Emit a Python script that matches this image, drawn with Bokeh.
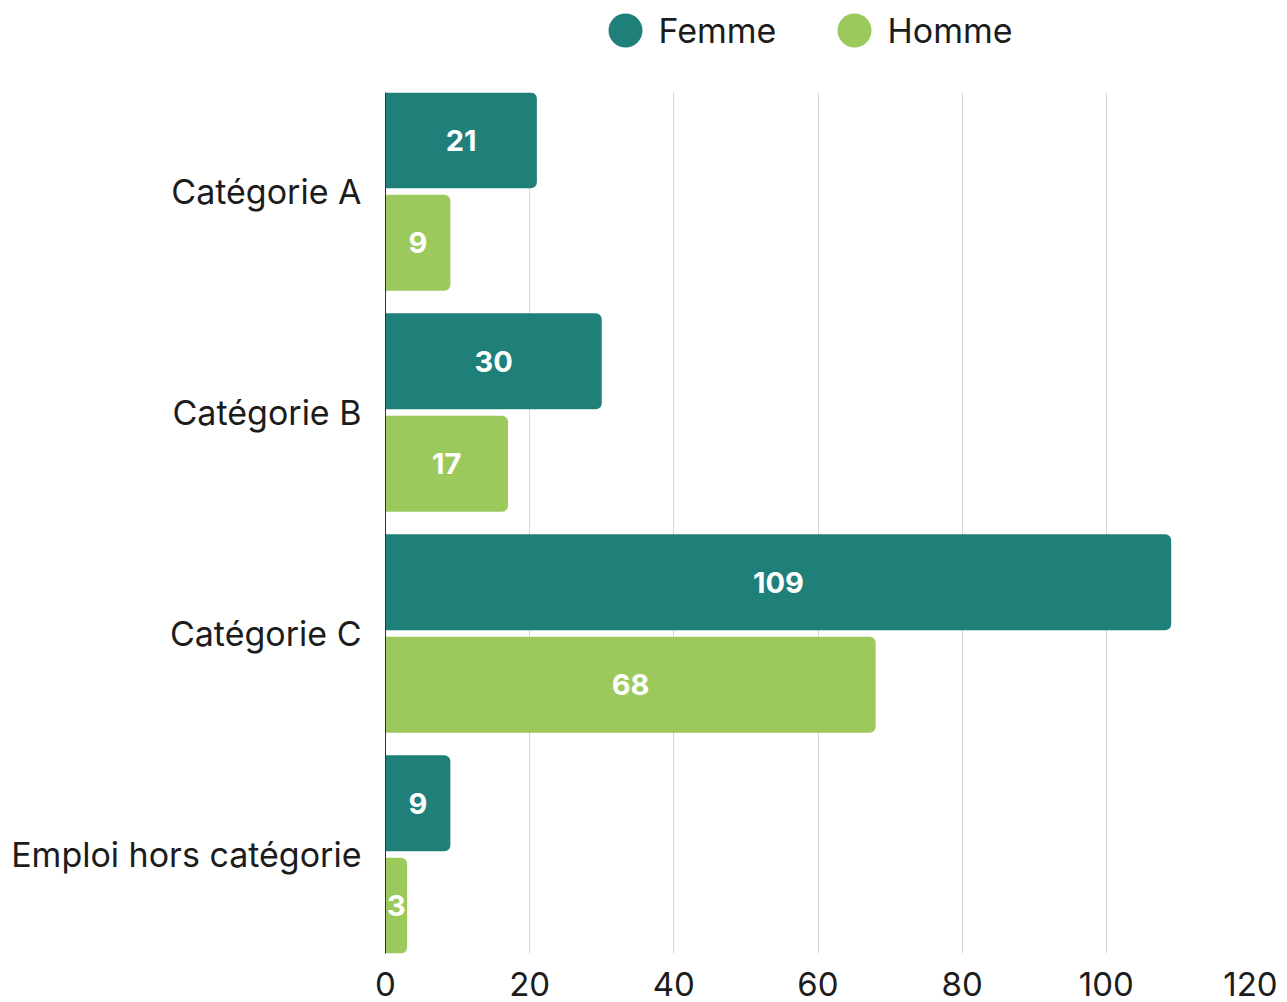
from bokeh.plotting import figure
from bokeh.models import ColumnDataSource, Range1d, FixedTicker
from bokeh.layouts import column
from bokeh.core.properties import value
from bokeh.embed import file_html
from bokeh.resources import INLINE

# Effectifs par catégorie et par sexe
categories = ["Catégorie A", "Catégorie B", "Catégorie C", "Emploi hors catégorie"]
femme = [21, 30, 109, 9]
homme = [9, 17, 68, 3]
x_ticks = [0, 20, 40, 60, 80, 100, 120]
series_names = ["Femme", "Homme"]

FEMME_COLOR = "#1f8079"
HOMME_COLOR = "#9cc95c"
FONT = "Inter"
TEXT_COLOR = "#1c1c1c"

LEFT, RIGHT = 385, 37          # shared frame borders (px)
WIDTH = 1287

n = len(categories)
# Category A at the top: position n-1 down to 0
pos = [n - 1 - i for i in range(n)]
offset = 0.232
bar_h = 0.435

src_f = ColumnDataSource(dict(
    y=[p + offset for p in pos], v=femme, mid=[v / 2 for v in femme],
    lab=[str(v) for v in femme]))
src_h = ColumnDataSource(dict(
    y=[p - offset for p in pos], v=homme, mid=[v / 2 for v in homme],
    lab=[str(v) for v in homme]))

# ---- legend strip (x range in pixels, same frame as the chart) ----
leg = figure(width=WIDTH, height=80, x_range=Range1d(LEFT, WIDTH - RIGHT),
             y_range=Range1d(0, 80), output_backend="svg", toolbar_location=None,
             min_border_left=LEFT, min_border_right=RIGHT,
             min_border_top=0, min_border_bottom=0)
leg.axis.visible = False
leg.grid.visible = False
leg.outline_line_color = None
leg_src = ColumnDataSource(dict(cx=[625, 854], tx=[658, 887], y=[50, 50],
                                name=series_names, color=[FEMME_COLOR, HOMME_COLOR]))
leg.scatter(x="cx", y="y", size=34, marker="circle", fill_color="color",
            line_color=None, source=leg_src)
leg.text(x="tx", y="y", text="name", text_font=value(FONT), text_font_size="34px",
         text_color=TEXT_COLOR, text_baseline="middle", text_align="left", source=leg_src)

# ---- main chart ----
p = figure(width=WIDTH, height=922, x_range=Range1d(0, 120),
           y_range=Range1d(-0.448, n - 1 + 0.448),
           output_backend="svg", toolbar_location=None,
           min_border_left=LEFT, min_border_right=RIGHT,
           min_border_top=12, min_border_bottom=49)

p.hbar(y="y", left=0, right="v", height=bar_h, source=src_f, fill_color=FEMME_COLOR,
       line_color=None, border_radius=(0, 6, 6, 0))
p.hbar(y="y", left=0, right="v", height=bar_h, source=src_h, fill_color=HOMME_COLOR,
       line_color=None, border_radius=(0, 6, 6, 0))

for s in (src_f, src_h):
    p.text(x="mid", y="y", text="lab", source=s, text_font=value(FONT),
           text_font_size="29px", text_font_style="bold", text_color="white",
           text_align="center", text_baseline="middle")

p.outline_line_color = None
p.ygrid.visible = False
p.xgrid.grid_line_color = "#d6d6d6"
p.xgrid.grid_line_width = 1
p.xgrid.ticker = FixedTicker(ticks=x_ticks)

p.xaxis.ticker = FixedTicker(ticks=x_ticks)
p.xaxis.axis_line_color = None
p.xaxis.major_tick_line_color = None
p.xaxis.minor_tick_line_color = None
p.xaxis.major_label_text_font = FONT
p.xaxis.major_label_text_font_size = "33px"
p.xaxis.major_label_text_color = TEXT_COLOR
p.xaxis.major_label_standoff = 12

p.yaxis.ticker = FixedTicker(ticks=pos)
p.yaxis.major_label_overrides = {pp: c for pp, c in zip(pos, categories)}
p.yaxis.axis_line_color = "#333333"
p.yaxis.axis_line_width = 1
p.yaxis.major_tick_line_color = None
p.yaxis.minor_tick_line_color = None
p.yaxis.major_label_text_font = FONT
p.yaxis.major_label_text_font_size = "34px"
p.yaxis.major_label_text_color = TEXT_COLOR
p.yaxis.major_label_standoff = 18

layout = column(leg, p, spacing=0)
open("out.html", "w").write(file_html(layout, INLINE))
